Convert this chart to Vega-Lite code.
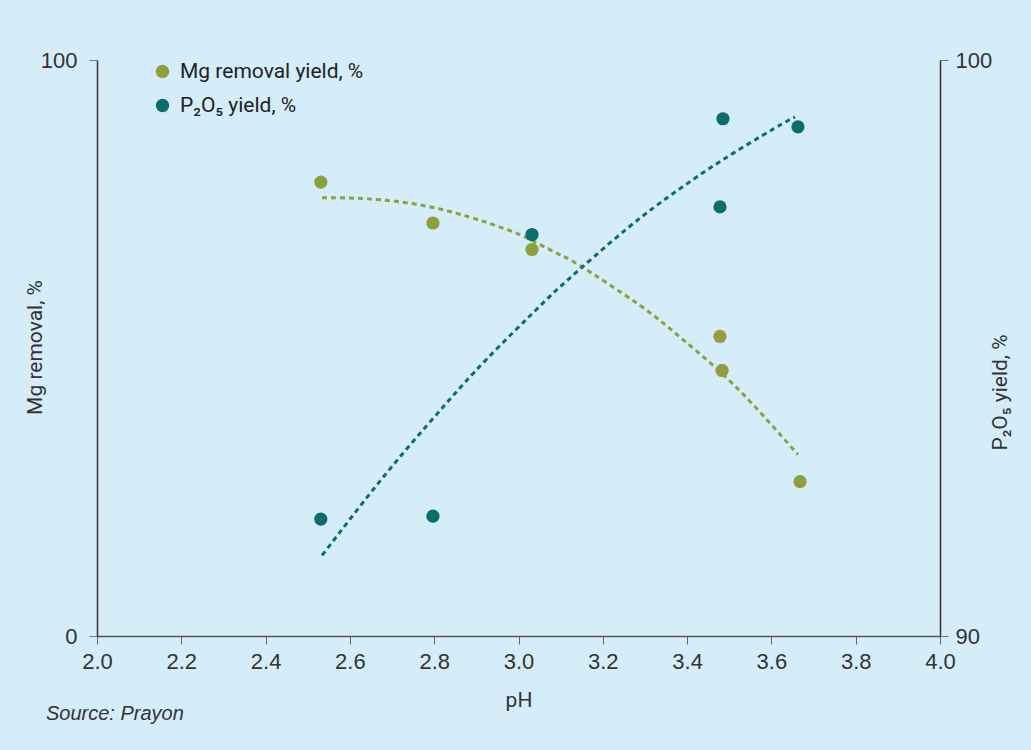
{
  "$schema": "https://vega.github.io/schema/vega-lite/v6.json",
  "width": 843,
  "height": 576,
  "autosize": "none",
  "padding": {"left": 97, "top": 60, "right": 91, "bottom": 114},
  "background": "#d4edf9",
  "config": {"view": {"stroke": null}, "font": "Liberation Sans"},
  "title": {
    "text": "Source: Prayon",
    "orient": "bottom",
    "anchor": "start",
    "font": "Liberation Sans",
    "fontStyle": "italic",
    "fontWeight": "normal",
    "fontSize": 20,
    "color": "#333333",
    "dx": 22,
    "offset": -6
  },
  "datasets": {
    "mg": [
      {"ph": 2.531, "mg": 78.8},
      {"ph": 2.797, "mg": 71.7},
      {"ph": 3.032, "mg": 67.1},
      {"ph": 3.478, "mg": 52.0},
      {"ph": 3.483, "mg": 46.1},
      {"ph": 3.668, "mg": 26.8}
    ],
    "p2o5": [
      {"ph": 2.531, "p": 92.03},
      {"ph": 2.797, "p": 92.08},
      {"ph": 3.032, "p": 96.97},
      {"ph": 3.478, "p": 97.45},
      {"ph": 3.485, "p": 98.98},
      {"ph": 3.663, "p": 98.84}
    ],
    "mgfit": [
      {"ph": 2.534, "mg": 76.1},
      {"ph": 2.641, "mg": 75.9},
      {"ph": 2.797, "mg": 74.4},
      {"ph": 2.956, "mg": 71.0},
      {"ph": 3.034, "mg": 68.6},
      {"ph": 3.098, "mg": 66.2},
      {"ph": 3.146, "mg": 64.3},
      {"ph": 3.288, "mg": 57.4},
      {"ph": 3.383, "mg": 51.9},
      {"ph": 3.466, "mg": 46.7},
      {"ph": 3.556, "mg": 40.2},
      {"ph": 3.663, "mg": 31.5}
    ],
    "pfit": [
      {"ph": 2.534, "p": 91.40},
      {"ph": 2.641, "p": 92.41},
      {"ph": 2.735, "p": 93.25},
      {"ph": 2.830, "p": 94.05},
      {"ph": 2.925, "p": 94.81},
      {"ph": 3.051, "p": 95.73},
      {"ph": 3.115, "p": 96.17},
      {"ph": 3.257, "p": 97.07},
      {"ph": 3.376, "p": 97.73},
      {"ph": 3.483, "p": 98.26},
      {"ph": 3.604, "p": 98.80},
      {"ph": 3.656, "p": 99.01}
    ]
  },
  "encoding": {
    "x": {
      "field": "ph",
      "type": "quantitative",
      "scale": {"domain": [2, 4], "nice": false, "zero": false},
      "axis": {
        "title": "pH",
        "values": [2.0, 2.2, 2.4, 2.6, 2.8, 3.0, 3.2, 3.4, 3.6, 3.8, 4.0],
        "format": ".1f",
        "grid": false,
        "labelFlush": false,
        "domainColor": "#555555",
        "domainWidth": 1.5,
        "tickColor": "#666666",
        "tickSize": 8,
        "labelFont": "Liberation Sans",
        "labelFontSize": 22,
        "labelColor": "#333333",
        "labelPadding": 7,
        "titleFont": "Roboto",
        "titleFontSize": 21,
        "titleFontWeight": "normal",
        "titleColor": "#333333",
        "titleY": 64,
        "titleBaseline": "middle"
      }
    }
  },
  "layer": [
    {
      "encoding": {
        "y": {
          "field": "mg",
          "type": "quantitative",
          "scale": {"domain": [0, 100], "nice": false},
          "axis": {
            "orient": "left",
            "title": "Mg removal, %",
            "values": [0, 100],
            "grid": false,
            "labelFlush": false,
            "domainColor": "#333333",
            "domainWidth": 1.5,
            "tickColor": "#777777",
            "tickSize": 8,
            "labelFont": "Liberation Sans",
            "labelFontSize": 22,
            "labelColor": "#333333",
            "labelPadding": 12,
            "titleFont": "Roboto",
            "titleFontSize": 21,
            "titleFontWeight": "normal",
            "titleColor": "#333333",
            "titleAngle": -90,
            "titleX": -62,
            "titleY": 287,
            "titleBaseline": "middle",
            "titleAlign": "center"
          }
        }
      },
      "layer": [
        {
          "data": {"name": "mgfit"},
          "mark": {"type": "line", "color": "#8ea03c", "strokeWidth": 3, "strokeDash": [5, 4], "interpolate": "natural"}
        },
        {
          "data": {"name": "mg"},
          "mark": {"type": "circle", "size": 175, "opacity": 1},
          "encoding": {
            "color": {
              "datum": "Mg removal yield, %",
              "type": "nominal",
              "scale": {"domain": ["Mg removal yield, %", "P₂O₅ yield, %"], "range": ["#8ea03c", "#0b6e6c"]},
              "legend": {
                "orient": "none",
                "legendX": 55,
                "legendY": 1,
                "title": null,
                "padding": 0,
                "symbolType": "circle",
                "symbolSize": 180,
                "symbolStrokeWidth": 0,
                "labelFont": "Roboto",
                "labelFontSize": 21,
                "labelColor": "#222222",
                "labelLimit": 400,
                "labelOffset": 7,
                "rowPadding": 12
              }
            }
          }
        }
      ]
    },
    {
      "encoding": {
        "y": {
          "field": "p",
          "type": "quantitative",
          "scale": {"domain": [90, 100], "nice": false, "zero": false},
          "axis": {
            "orient": "right",
            "title": "P₂O₅ yield, %",
            "values": [90, 100],
            "grid": false,
            "labelFlush": false,
            "domainColor": "#333333",
            "domainWidth": 1.5,
            "tickColor": "#777777",
            "tickSize": 8,
            "labelFont": "Liberation Sans",
            "labelFontSize": 22,
            "labelColor": "#333333",
            "labelPadding": 7,
            "titleFont": "Roboto",
            "titleFontSize": 21,
            "titleFontWeight": "normal",
            "titleColor": "#333333",
            "titleAngle": -90,
            "titleX": 60,
            "titleY": 332,
            "titleBaseline": "middle",
            "titleAlign": "center"
          }
        }
      },
      "layer": [
        {
          "data": {"name": "pfit"},
          "mark": {"type": "line", "color": "#0b6e6c", "strokeWidth": 3, "strokeDash": [5, 4], "interpolate": "natural"}
        },
        {
          "data": {"name": "p2o5"},
          "mark": {"type": "circle", "size": 175, "opacity": 1},
          "encoding": {
            "color": {"datum": "P₂O₅ yield, %", "type": "nominal"}
          }
        }
      ]
    }
  ],
  "resolve": {"scale": {"y": "independent"}}
}
